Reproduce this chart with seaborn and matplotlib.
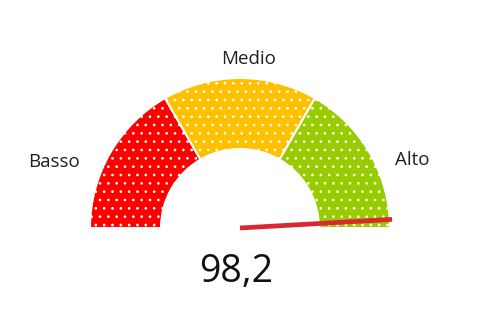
import numpy as np
import matplotlib
matplotlib.use("Agg")
import matplotlib.pyplot as plt
import seaborn as sns

# Data
categories = ["Basso", "Medio", "Alto"]
band_sizes = [1, 1, 1]
band_colors = ["#FF0000", "#FFC000", "#99CC00"]
value = 98.2
value_min = 0
value_max = 100
value_label = "98,2"

sns.set_theme(style="white")
plt.rcParams['font.family'] = ['Open Sans', 'DejaVu Sans']
plt.rcParams['hatch.color'] = 'white'
plt.rcParams['hatch.linewidth'] = 0.7

W, H, DPI = 503, 310, 100
fig = plt.figure(figsize=(W / DPI, H / DPI), dpi=DPI)
ax = fig.add_axes([0, 0, 1, 1])

R_px = 150.0
cx, cy = 240.0, 228.0  # center in pixels (from top)

total = sum(band_sizes)
sizes = band_sizes + [total]
colors = band_colors + ["none"]
wedges, _ = ax.pie(sizes, colors=colors, startangle=180, counterclock=False,
                   radius=1.0, center=(0, 0), frame=True,
                   wedgeprops=dict(width=71 / R_px, edgecolor="white", linewidth=1.5))
for w in wedges[:3]:
    w.set_hatch('..')
wedges[3].set_visible(False)
ax.set_xlim(-cx / R_px, (W - cx) / R_px)
ax.set_ylim(-(H - cy) / R_px, cy / R_px)
ax.set_aspect('auto')
ax.axis('off')

# needle
theta = np.pi * (1 - (value - value_min) / (value_max - value_min))
L = 1.015
ax.plot([0, L * np.cos(theta)], [0, L * np.sin(theta)], color="#D9282F",
        lw=3.4, solid_capstyle="butt", zorder=5)

# labels
label_pos = [(-186, 66), (9, 169), (172, 68)]
for cat, (dx, dy) in zip(categories, label_pos):
    ax.text(dx / R_px, dy / R_px, cat, ha="center", va="center",
            fontsize=13.5, color="#1f1f1f")

ax.text(-4 / R_px, -44 / R_px, value_label, ha="center", va="center",
        fontsize=27, color="#111111")

fig.savefig("out.png", dpi=DPI, facecolor="white")
